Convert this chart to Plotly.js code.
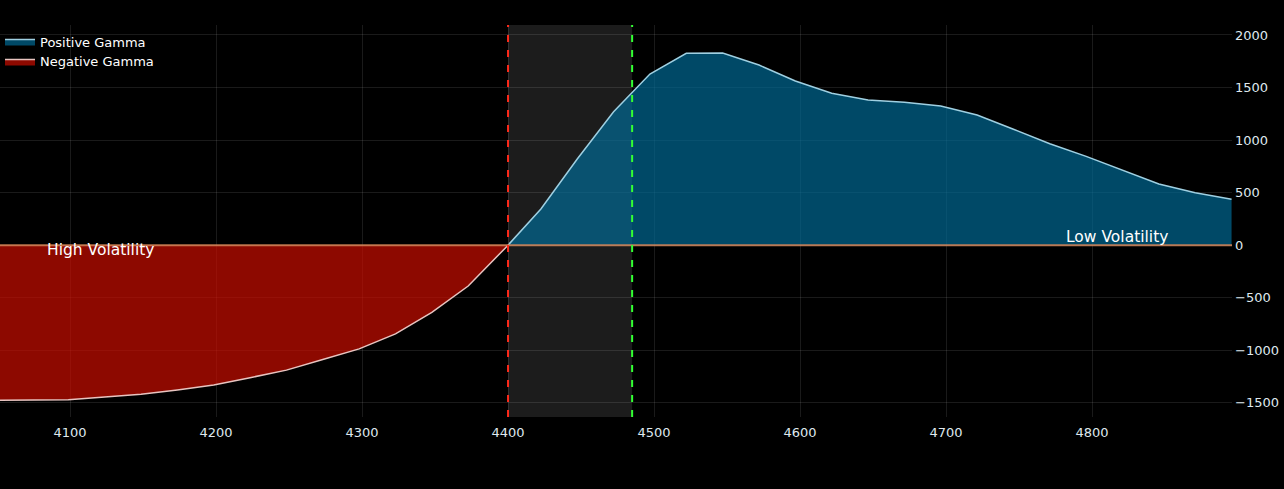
<!DOCTYPE html>
<html>
<head>
<meta charset="utf-8">
<script src="https://cdn.plot.ly/plotly-3.0.1.min.js"></script>
<style>html,body{margin:0;padding:0;background:#000;}#chart{width:1284px;height:489px;}</style>
</head>
<body>
<div id="chart"></div>
<script>
// Price levels (x) for the gamma profile
const negLevels = [4049.0, 4073.9, 4098.8, 4123.7, 4148.6, 4173.5, 4198.4, 4223.3, 4248.2, 4273.1, 4298.0, 4322.9, 4347.8, 4372.7, 4397.6];
const negGamma  = [-1476, -1473, -1470, -1445, -1419, -1378, -1331, -1261, -1189, -1088, -987, -844, -640, -389, -32];
const posLevels = [4422.5, 4447.4, 4472.3, 4497.2, 4522.1, 4547.0, 4571.9, 4596.8, 4621.7, 4646.6, 4671.5, 4696.4, 4721.3, 4746.2, 4771.1, 4796.0, 4820.9, 4845.8, 4870.7, 4895.6];
const posGamma  = [345, 820, 1270, 1628, 1826, 1828, 1714, 1562, 1445, 1381, 1359, 1324, 1238, 1103, 965, 845, 710, 582, 498, 438];
const zeroGammaLevel = 4400;
const spotPrice = 4485;
const xTicks = [4100, 4200, 4300, 4400, 4500, 4600, 4700, 4800];
const yTicks = [-1500, -1000, -500, 0, 500, 1000, 1500, 2000];

const font = 'DejaVu Sans, Verdana, sans-serif';

const traces = [
  {
    name: 'Positive Gamma',
    x: [zeroGammaLevel].concat(posLevels),
    y: [0].concat(posGamma),
    type: 'scatter', mode: 'lines', fill: 'tozeroy',
    fillcolor: 'rgba(0,108,152,0.68)',
    line: {color: '#9fd0e2', width: 1.5}
  },
  {
    name: 'Negative Gamma',
    x: negLevels.concat([zeroGammaLevel]),
    y: negGamma.concat([0]),
    type: 'scatter', mode: 'lines', fill: 'tozeroy',
    fillcolor: 'rgba(208,14,0,0.68)',
    line: {color: '#e8c4c0', width: 1.5}
  }
];

const layout = {
  width: 1284, height: 489,
  paper_bgcolor: '#000', plot_bgcolor: '#000',
  margin: {l: 0, r: 52, t: 25, b: 72},
  font: {family: font, color: '#e4ecf2', size: 13},
  showlegend: true,
  legend: {x: 0, xanchor: 'left', y: 0.996, yanchor: 'top', bgcolor: 'rgba(0,0,0,0)',
           font: {family: font, size: 13, color: '#ffffff'}, traceorder: 'normal', tracegroupgap: 0},
  xaxis: {
    range: [4052, 4895.9], tickvals: xTicks, ticktext: xTicks.map(String),
    showgrid: true, gridcolor: 'rgba(255,255,255,0.1)', gridwidth: 1,
    zeroline: false, showline: false, ticks: '', ticklabelstandoff: 6,
    tickfont: {family: font, size: 13, color: '#dfe8ee'}
  },
  yaxis: {
    side: 'right', range: [-1635, 2095], tickvals: yTicks,
    ticktext: yTicks.map(v => v < 0 ? '\u2212' + Math.abs(v) : String(v)),
    showgrid: true, gridcolor: 'rgba(255,255,255,0.1)', gridwidth: 1,
    zeroline: false, showline: false, ticks: '', ticklabelstandoff: 2,
    tickfont: {family: font, size: 13, color: '#dfe8ee'}
  },
  shapes: [
    {type: 'rect', xref: 'x', yref: 'paper', x0: zeroGammaLevel, x1: spotPrice, y0: 0, y1: 1,
     fillcolor: 'rgba(255,255,255,0.11)', line: {width: 0}, layer: 'below'},
    {type: 'line', xref: 'paper', yref: 'y', x0: 0, x1: 1, y0: 0, y1: 0,
     line: {color: 'rgba(215,135,90,0.85)', width: 2}, layer: 'above'},
    {type: 'line', xref: 'x', yref: 'paper', x0: zeroGammaLevel, x1: zeroGammaLevel, y0: 0, y1: 1,
     line: {color: '#ff2a1a', width: 2, dash: '7px,8px'}, layer: 'above'},
    {type: 'line', xref: 'x', yref: 'paper', x0: spotPrice, x1: spotPrice, y0: 0, y1: 1,
     line: {color: '#33ff33', width: 2, dash: '7px,8px'}, layer: 'above'}
  ],
  annotations: [
    {text: 'High Volatility', x: 4121.5, y: -48, xref: 'x', yref: 'y', showarrow: false,
     font: {family: font, size: 15.5, color: '#ffffff'}},
    {text: 'Low Volatility', x: 4817, y: 76, xref: 'x', yref: 'y', showarrow: false,
     font: {family: font, size: 15.5, color: '#ffffff'}}
  ]
};

Plotly.newPlot('chart', traces, layout, {displayModeBar: false, staticPlot: true});
</script>
</body>
</html>
